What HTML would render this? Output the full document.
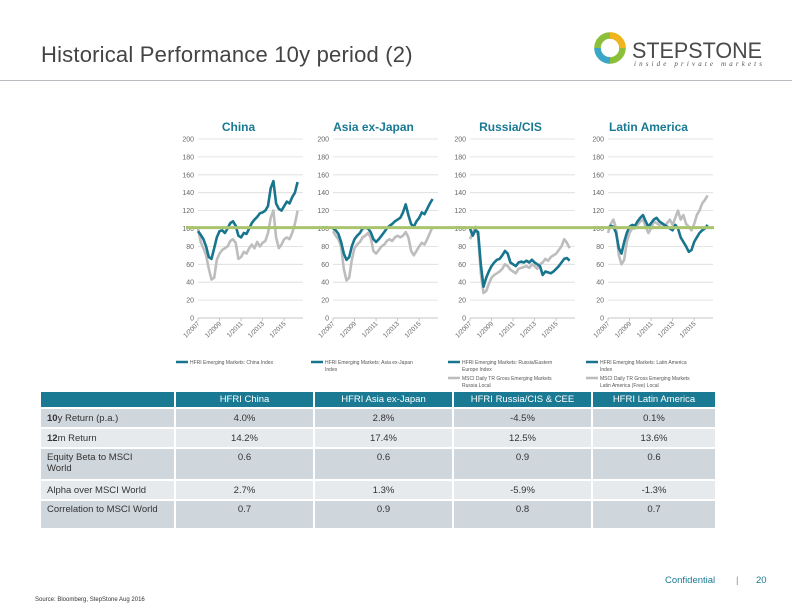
<!DOCTYPE html>
<html><head><meta charset="utf-8">
<style>
body{margin:0;background:#fff;font-family:"Liberation Sans",sans-serif;}
#page{position:relative;width:792px;height:612px;overflow:hidden;background:#fff;}
.title{position:absolute;left:41px;top:42px;font-size:22px;color:#444;letter-spacing:0.2px;}
.hr{position:absolute;left:0;top:80px;width:792px;height:1px;background:#b8bcc0;}
table{position:absolute;left:39px;top:390px;border-collapse:collapse;font-size:9.5px;color:#333;table-layout:fixed;width:676px;}
td,th{border:2px solid #fff;padding:0 6px;overflow:hidden;}
th{background:#1a7a94;color:#fff;font-weight:normal;height:15px;text-align:center;}
tr.d td{background:#cfd6dc;}
tr.l td{background:#e6eaed;}
td.c{text-align:center;}
.foot{position:absolute;font-size:9.5px;color:#1a7a94;}
</style></head><body>
<div id="page">
<div class="title">Historical Performance 10y period (2)</div>
<div class="hr"></div>
<svg style="position:absolute;left:592px;top:30px" width="180" height="44">
<circle cx="18" cy="18" r="12.5" fill="none" stroke="#8bbf3a" stroke-width="6.5"/>
<path d="M18 5.5 A12.5 12.5 0 0 1 30.5 18" fill="none" stroke="#f2b41c" stroke-width="6.5"/>
<path d="M5.5 18 A12.5 12.5 0 0 0 18 30.5" fill="none" stroke="#3aa7c9" stroke-width="6.5"/>
<text x="40" y="28" font-size="22" fill="#4a4a4a" font-family="Liberation Sans" textLength="130" lengthAdjust="spacingAndGlyphs">STEPSTONE</text>
<text x="42" y="36" font-size="7" fill="#555" font-style="italic" font-family="Liberation Serif" textLength="128" lengthAdjust="spacing">inside private markets</text>
</svg>
<svg id="charts" style="position:absolute;left:0;top:0" width="792" height="390"></svg>
<table>
<colgroup><col style="width:135px"><col style="width:139px"><col style="width:139px"><col style="width:139px"><col style="width:124px"></colgroup>
<tr><th></th><th>HFRI China</th><th>HFRI Asia ex-Japan</th><th>HFRI Russia/CIS &amp; CEE</th><th>HFRI Latin America</th></tr>
<tr class="d" style="height:20px"><td><b>10</b>y Return (p.a.)</td><td class="c">4.0%</td><td class="c">2.8%</td><td class="c">-4.5%</td><td class="c">0.1%</td></tr>
<tr class="l" style="height:20px"><td><b>12</b>m Return</td><td class="c">14.2%</td><td class="c">17.4%</td><td class="c">12.5%</td><td class="c">13.6%</td></tr>
<tr class="d" style="height:32px"><td style="vertical-align:top;padding-top:3px;padding-right:30px">Equity Beta to MSCI World</td><td class="c" style="vertical-align:top;padding-top:3px">0.6</td><td class="c" style="vertical-align:top;padding-top:3px">0.6</td><td class="c" style="vertical-align:top;padding-top:3px">0.9</td><td class="c" style="vertical-align:top;padding-top:3px">0.6</td></tr>
<tr class="l" style="height:20px"><td>Alpha over MSCI World</td><td class="c">2.7%</td><td class="c">1.3%</td><td class="c">-5.9%</td><td class="c">-1.3%</td></tr>
<tr class="d" style="height:29px"><td style="vertical-align:top;padding-top:3px">Correlation to MSCI World</td><td class="c" style="vertical-align:top;padding-top:3px">0.7</td><td class="c" style="vertical-align:top;padding-top:3px">0.9</td><td class="c" style="vertical-align:top;padding-top:3px">0.8</td><td class="c" style="vertical-align:top;padding-top:3px">0.7</td></tr>
</table>
<div class="foot" style="left:665px;top:575px">Confidential</div>
<div class="foot" style="left:736px;top:575px;color:#888">|</div>
<div class="foot" style="left:756px;top:575px">20</div>
<div style="position:absolute;left:35px;top:597px;font-size:6px;color:#333">Source: Bloomberg, StepStone Aug 2016</div>
</div>
<script>
const yTicks=[0,20,40,60,80,100,120,140,160,180,200];
const xTickYears=[2007,2009,2011,2013,2015];
const xTickLabels=["1/2007","1/2009","1/2011","1/2013","1/2015"];
const chinaH=[97,93,88,80,68,66,78,90,97,98,95,100,106,108,103,92,90,95,94,100,106,110,113,117,118,120,125,145,153,128,122,120,125,130,128,135,140,152];
const chinaM=[100,85,78,70,55,43,45,65,72,76,78,80,86,88,84,66,68,74,72,78,82,78,85,80,84,86,95,112,120,90,78,82,88,90,88,95,105,120];
const asiaH=[100,98,94,85,72,65,68,80,88,92,95,100,101,100,96,88,85,88,92,96,100,103,105,108,110,112,118,127,115,105,102,108,112,118,116,122,128,133];
const asiaM=[97,92,88,80,55,42,45,65,78,82,85,90,92,95,90,75,72,76,80,82,86,88,86,90,92,90,92,96,90,75,70,75,80,84,82,88,95,102];
const russiaH=[100,92,98,96,60,35,45,52,58,62,65,66,70,75,72,62,60,58,62,63,62,64,62,65,62,60,58,48,52,51,50,52,55,58,62,66,67,64];
const russiaM=[88,95,102,92,50,28,30,38,45,48,50,52,55,60,58,54,52,50,55,56,57,58,56,60,58,55,60,62,66,64,68,70,72,76,80,88,84,78];
const latamH=[100,103,102,95,78,72,85,95,102,104,103,108,112,115,108,102,106,110,112,108,106,104,102,100,98,104,100,90,85,80,74,76,85,90,95,98,100,104];
const latamM=[95,105,110,100,70,60,65,85,95,100,100,104,108,110,102,95,100,108,106,104,105,103,106,110,104,112,120,110,115,105,102,98,105,115,120,128,132,137];
const startYear=2007, stepYears=0.25, endYear=2016.75;
const baseline=101;
const panels=[
 {name:"china",title:"China",x0:198,h:chinaH,m:chinaM,leg:["HFRI Emerging Markets: China Index"]},
 {name:"asia",title:"Asia ex-Japan",x0:333,h:asiaH,m:asiaM,leg:["HFRI Emerging Markets: Asia ex-Japan","Index"]},
 {name:"russia",title:"Russia/CIS",x0:470,h:russiaH,m:russiaM,leg:["HFRI Emerging Markets: Russia/Eastern","Europe Index"],leg2:["MSCI Daily TR Gross Emerging Markets","Russia Local"]},
 {name:"latam",title:"Latin America",x0:608,h:latamH,m:latamM,leg:["HFRI Emerging Markets: Latin America","Index"],leg2:["MSCI Daily TR Gross Emerging Markets","Latin America (Free) Local"]}
];
const W=105, yTop=139, yBot=318;
const NS="http://www.w3.org/2000/svg";
const svg=document.getElementById('charts');
function mk(tag,attrs,parent){const e=document.createElementNS(NS,tag);for(const k in attrs)e.setAttribute(k,attrs[k]);(parent||svg).appendChild(e);return e;}
function yS(v){return yBot-(v/200)*(yBot-yTop);}
panels.forEach(p=>{
  const g=mk('g',{});
  
  
  const xS=t=>p.x0+(t-startYear)/(endYear-startYear)*W;
  const t=mk('text',{x:p.x0+W/2-12,y:131,'font-size':12,'font-weight':'bold',fill:'#1a7a94','text-anchor':'middle'},g);
  t.textContent=p.title;
  
  
  yTicks.forEach(v=>{
    const ln=mk('line',{x1:p.x0,x2:p.x0+W,y1:yS(v),y2:yS(v),stroke:'#dcdcdc','stroke-width':0.8},g);
    
    
    const lb=mk('text',{x:p.x0-4,y:yS(v)+2.5,'font-size':7,fill:'#666','text-anchor':'end'},g);
    lb.textContent=v;
    
    
  });
  mk('line',{x1:p.x0,x2:p.x0+W,y1:yBot,y2:yBot,stroke:'#bbb','stroke-width':0.8},g);
  xTickYears.forEach((yr,i)=>{
    const x=xS(yr);
    mk('line',{x1:x,x2:x,y1:yBot,y2:yBot+3,stroke:'#bbb','stroke-width':0.8},g);
    const lb=mk('text',{x:x+2,y:yBot+6,'font-size':6.5,fill:'#666','text-anchor':'end',transform:`rotate(-45 ${x+2} ${yBot+6})`},g);
    lb.textContent=xTickLabels[i];
    
    
  });
  [[p.m,'#bdbdbd','msci'],[p.h,'#17758e','hfri']].forEach(([arr,col,nm])=>{
    const pts=arr.map((v,i)=>xS(startYear+i*stepYears).toFixed(1)+','+yS(v).toFixed(1)).join(' ');
    const pl=mk('polyline',{points:pts,fill:'none',stroke:col,'stroke-width':2.6,'stroke-linejoin':'round'},g);
    
    
  });
  const lx=p.x0-22;
  mk('line',{x1:lx,x2:lx+12,y1:362,y2:362,stroke:'#17758e','stroke-width':2.5},g);
  p.leg.forEach((s,i)=>{const tt=mk('text',{x:lx+14,y:364+i*7,'font-size':5,fill:'#555'},g);tt.textContent=s;
    });
  if(p.leg2){
    mk('line',{x1:lx,x2:lx+12,y1:378,y2:378,stroke:'#bdbdbd','stroke-width':2.5},g);
    p.leg2.forEach((s,i)=>{const tt=mk('text',{x:lx+14,y:380+i*7,'font-size':5,fill:'#555'},g);tt.textContent=s;
      });
  }
});
const bl=mk('line',{x1:186,x2:714,y1:yS(baseline),y2:yS(baseline),stroke:'#a9c46c','stroke-width':3});


</script>
</body></html>
